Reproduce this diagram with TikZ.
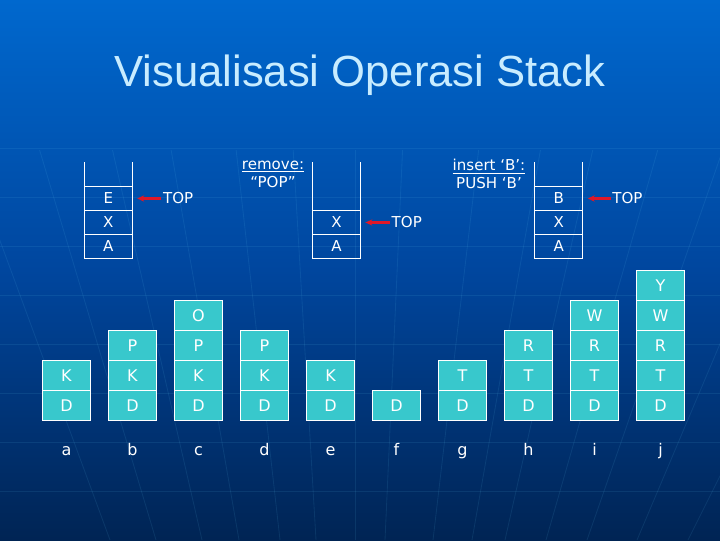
\documentclass[tikz,border=0pt]{standalone}
\usepackage{fontspec}
\setmainfont{DejaVu Sans}
\newfontfamily\titlefont{Liberation Sans}
\usetikzlibrary{positioning, arrows.meta, calc}

\definecolor{bgtop}{RGB}{0,104,206}
\definecolor{bgmid}{RGB}{0,70,158}
\definecolor{bgbot}{RGB}{0,36,84}
\definecolor{cellfill}{RGB}{56,200,204}
\definecolor{titlecol}{RGB}{200,236,255}
\definecolor{arrowred}{RGB}{222,24,40}

\begin{document}
\begin{tikzpicture}[
    x=0.025cm, y=-0.025cm,
    cell/.style={draw=white, line width=0.8pt, fill=cellfill, text=white, outer sep=0pt,
        minimum width=1.2cm, minimum height=0.75cm, inner sep=0pt, font=\fontsize{11.4}{13}\selectfont},
    slot/.style={draw=white, line width=0.9pt, text=white, outer sep=0pt,
        minimum width=1.2cm, minimum height=0.6cm, inner sep=0pt, font=\fontsize{10.7}{12.8}\selectfont},
    wall/.style={draw=white, line width=0.9pt},
    bgline/.style={draw=cyan!60!white, line width=0.6pt, opacity=0.1},
    toplbl/.style={text=white, inner sep=0pt, font=\fontsize{10.7}{12.8}\selectfont},
    toparrow/.style={arrowred, line width=1.5pt, shorten >=3.5pt, -{Stealth[length=5pt, width=4.5pt]}},
    oplbl/.style={text=white, align=center, inner sep=0pt, font=\fontsize{10.7}{12.8}\selectfont},
    steplbl/.style={text=white, anchor=base, font=\fontsize{11.4}{13}\selectfont}
]

% ==========================================
% 1. Background and title
% ==========================================
\useasboundingbox (0,0) rectangle (720,540);
\fill[top color=bgtop, bottom color=bgbot, middle color=bgmid] (0,0) rectangle (720,540);
\begin{scope}
    \clip (0,0) rectangle (720,540);
    \foreach \y in {148,197,...,491}
        \draw[bgline] (0,\y) -- (720,\y);
    \foreach \b in {110,156,202,239,280,316,355,385,433,472,505,546,587,637,688}
        \draw[bgline] (\b,540) -- ({355+(\b-355)*1.585},150);
\end{scope}

\node[anchor=base, text=titlecol, font=\titlefont\fontsize{31}{36}\selectfont] (title) at (360,86) {Visualisasi Operasi Stack};

% ==========================================
% 2. Top row: POP and PUSH on a stack
% ==========================================
\coordinate (rim) at (0,162); % top edge of the open stacks

% Stack 1 (E on top)
\node[slot] (s1A) at (108.3,246.5) {A};
\node[slot, above=0pt of s1A] (s1X) {X};
\node[slot, above=0pt of s1X] (s1E) {E};
\draw[wall] (s1E.north west) -- (s1E.north west |- rim);
\draw[wall] (s1E.north east) -- (s1E.north east |- rim);

\node[toplbl, right=21.7pt of s1E] (top1) {TOP};
\draw[toparrow] ([xshift=-1pt]top1.west) -- (s1E.east);

\node[oplbl] (rmv) at (273,174) {\underline{remove:}\\“POP”};

% Stack 2 (after pop)
\node[slot] (s2A) at (336.5,246.5) {A};
\node[slot, above=0pt of s2A] (s2X) {X};
\draw[wall] (s2X.north west) -- (s2X.north west |- rim);
\draw[wall] (s2X.north east) -- (s2X.north east |- rim);

\node[toplbl, right=22pt of s2X] (top2) {TOP};
\draw[toparrow] ([xshift=-1pt]top2.west) -- (s2X.east);

\node[oplbl] (ins) at (489,174) {\underline{insert ‘B’:}\\PUSH ‘B’};

% Stack 3 (after push)
\node[slot] (s3A) at (558.8,246.5) {A};
\node[slot, above=0pt of s3A] (s3X) {X};
\node[slot, above=0pt of s3X] (s3B) {B};
\draw[wall] (s3B.north west) -- (s3B.north west |- rim);
\draw[wall] (s3B.north east) -- (s3B.north east |- rim);

\node[toplbl, right=20.8pt of s3B] (top3) {TOP};
\draw[toparrow] ([xshift=-1pt]top3.west) -- (s3B.east);

% ==========================================
% 3. Bottom row: stack states a..j
% ==========================================
\foreach \lbl/\cells [count=\i from 0] in {a/{D,K}, b/{D,K,P}, c/{D,K,P,O}, d/{D,K,P}, e/{D,K},
        f/{D}, g/{D,T}, h/{D,T,R}, i/{D,T,R,W}, j/{D,T,R,W,Y}} {
    \foreach \c [count=\k from 0] in \cells {
        \node[cell] (\lbl\k) at ({66.5+66*\i}, {405.5-30*\k}) {\c};
    }
    \node[steplbl] (lbl-\lbl) at ({66.5+66*\i}, 455) {\lbl};
}

\end{tikzpicture}
\end{document}
